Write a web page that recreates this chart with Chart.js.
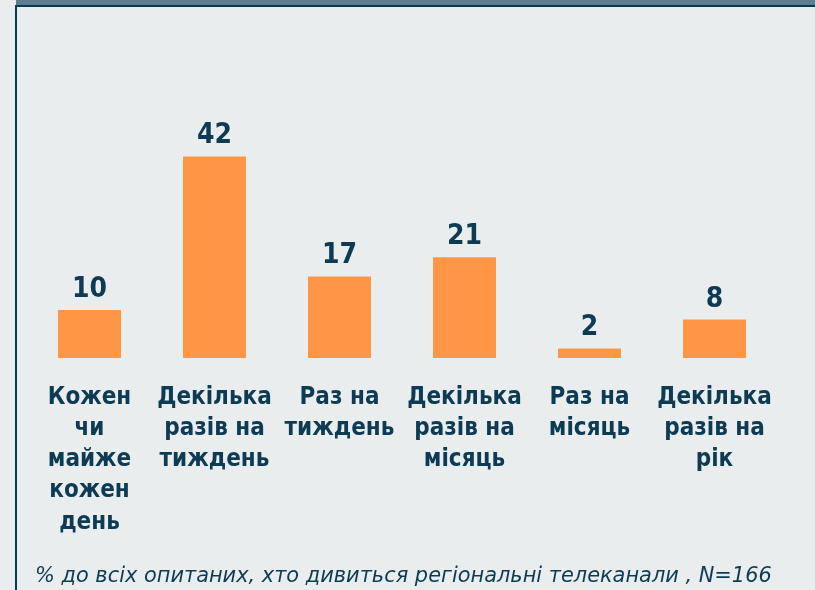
<!DOCTYPE html>
<html>
<head>
<meta charset="utf-8">
<script src="https://cdn.jsdelivr.net/npm/chart.js@4/dist/chart.umd.min.js"></script>
<style>
    html, body { margin: 0; padding: 0; }
    body { width: 815px; height: 590px; background: #e9eded; position: relative; overflow: hidden; }
    .band { position: absolute; left: 16px; top: 0; right: 0; height: 5px; background: #5b7f8f; }
    .frame { position: absolute; left: 15px; top: 5px; right: 0; bottom: 0; border-left: 2px solid #0e3a50; border-top: 2px solid #0e3a50; }
    canvas { position: absolute; left: 0; top: 0; }
    .note { position: absolute; left: 35px; top: 563px; font-family: "DejaVu Sans", sans-serif; font-style: italic; font-size: 20.9px; color: #0d3b54; white-space: nowrap; }
</style>
</head>
<body>
<div class="band"></div>
<div class="frame"></div>
<canvas id="chart" width="815" height="590"></canvas>
<div class="note">% до всіх опитаних, хто дивиться регіональні телеканали , N=166</div>
<script>
    const categories = [
        ["Кожен", "чи", "майже", "кожен", "день"],
        ["Декілька", "разів на", "тиждень"],
        ["Раз на", "тиждень"],
        ["Декілька", "разів на", "місяць"],
        ["Раз на", "місяць"],
        ["Декілька", "разів на", "рік"]
    ];
    const shares = [10, 42, 17, 21, 2, 8];

    const textColor = "#0d3b54";
    const boldFamily = "'DejaVu Sans Condensed', 'DejaVu Sans', sans-serif";

    const valueLabels = {
        id: "valueLabels",
        afterDatasetsDraw(chart) {
            const ctx = chart.ctx;
            const meta = chart.getDatasetMeta(0);
            ctx.save();
            ctx.font = "bold 28px " + boldFamily;
            ctx.fillStyle = textColor;
            ctx.textAlign = "center";
            ctx.textBaseline = "alphabetic";
            meta.data.forEach((bar, i) => {
                ctx.fillText(String(shares[i]), bar.x, bar.y - 13);
            });
            ctx.restore();
        }
    };

    new Chart(document.getElementById("chart"), {
        type: "bar",
        data: {
            labels: categories,
            datasets: [
                {
                    data: shares,
                    backgroundColor: "#ff9646",
                    categoryPercentage: 1,
                    barPercentage: 0.504
                }
            ]
        },
        options: {
            responsive: false,
            animation: false,
            layout: {
                padding: { left: 27, right: 38, top: 118, bottom: 28 }
            },
            plugins: {
                legend: { display: false },
                tooltip: { enabled: false }
            },
            scales: {
                x: {
                    grid: { display: false, drawTicks: false },
                    border: { display: false },
                    ticks: {
                        color: textColor,
                        padding: 24,
                        maxRotation: 0,
                        autoSkip: false,
                        font: { family: boldFamily, weight: "bold", size: 24, lineHeight: 1.3 }
                    }
                },
                y: {
                    display: false,
                    min: 0,
                    max: 50
                }
            }
        },
        plugins: [valueLabels]
    });
</script>
</body>
</html>
